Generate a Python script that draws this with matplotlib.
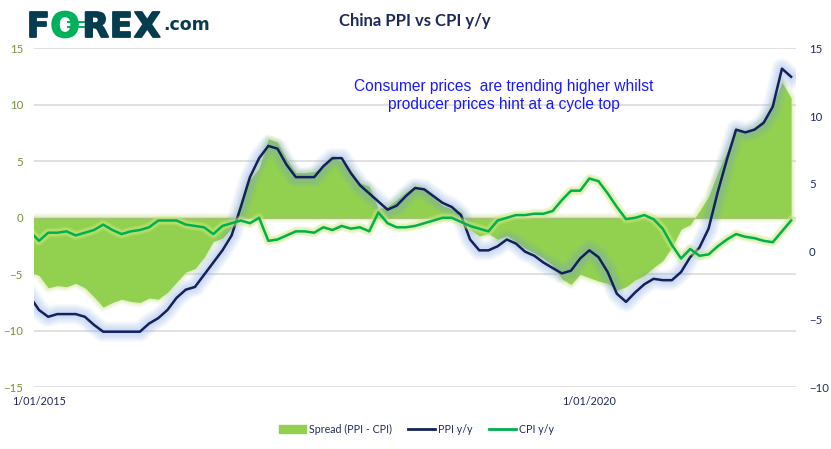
import matplotlib
matplotlib.use("Agg")
import matplotlib.pyplot as plt
import matplotlib.patheffects as pe
from matplotlib.patches import Patch
from matplotlib.lines import Line2D

plt.rcParams['font.family'] = ['Lato', 'DejaVu Sans']

# Monthly, Dec 2014 to Nov 2021 (Dec 2014 sits just outside the left edge and is clipped)
ppi = [-3.3,
       -4.3,-4.8,-4.6,-4.6,-4.6,-4.8,-5.4,-5.9,-5.9,-5.9,-5.9,-5.9,
       -5.3,-4.9,-4.3,-3.4,-2.8,-2.6,-1.7,-0.8,0.1,1.2,3.3,5.5,
       6.9,7.8,7.6,6.4,5.5,5.5,5.5,6.3,6.9,6.9,5.8,4.9,
       4.3,3.7,3.1,3.4,4.1,4.7,4.6,4.1,3.6,3.3,2.7,0.9,
       0.1,0.1,0.4,0.9,0.6,0.0,-0.3,-0.8,-1.2,-1.6,-1.4,-0.5,
       0.1,-0.4,-1.5,-3.1,-3.7,-3.0,-2.4,-2.0,-2.1,-2.1,-1.5,-0.4,
       0.3,1.7,4.4,6.8,9.0,8.8,9.0,9.5,10.7,13.5,12.9]
cpi = [1.5,
       0.8,1.4,1.4,1.5,1.2,1.4,1.6,2.0,1.6,1.3,1.5,1.6,
       1.8,2.3,2.3,2.3,2.0,1.9,1.8,1.3,1.9,2.1,2.3,2.1,
       2.5,0.8,0.9,1.2,1.5,1.5,1.4,1.8,1.6,1.9,1.7,1.8,
       1.5,2.9,2.1,1.8,1.8,1.9,2.1,2.3,2.5,2.5,2.2,1.9,
       1.7,1.5,2.3,2.5,2.7,2.7,2.8,2.8,3.0,3.8,4.5,4.5,
       5.4,5.2,4.3,3.3,2.4,2.5,2.7,2.4,1.7,0.5,-0.5,0.2,
       -0.3,-0.2,0.4,0.9,1.3,1.1,1.0,0.8,0.7,1.5,2.3]
spread = [-4.8,
          -5.1,-6.2,-6.0,-6.1,-5.8,-6.2,-7.0,-7.9,-7.5,-7.2,-7.4,-7.5,
          -7.1,-7.2,-6.6,-5.7,-4.8,-4.5,-3.5,-2.1,-1.8,-0.9,1.0,3.4,
          4.4,7.0,6.7,5.2,4.0,4.0,4.1,4.5,5.3,5.0,4.1,3.1,
          2.8,0.8,1.0,1.6,2.3,2.8,2.5,1.8,1.1,0.8,0.5,-1.0,
          -1.6,-1.4,-1.9,-1.6,-2.1,-2.7,-3.1,-3.6,-4.2,-5.4,-5.9,-5.0,
          -5.3,-5.6,-5.8,-6.4,-6.1,-5.5,-5.1,-4.4,-3.8,-2.6,-1.0,-0.6,
          0.6,1.9,4.0,5.9,7.7,7.7,8.0,8.7,10.0,12.0,10.6]
months = list(range(-1, len(ppi) - 1))
date_ticks = [0, 60]
date_labels = ['1/01/2015', '1/01/2020']
left_ticks = [-15, -10, -5, 0, 5, 10, 15]
right_ticks = [-10, -5, 0, 5, 10, 15]

NAVY = '#14205c'
GREEN = '#00b050'
AREA = '#92d050'
OLIVE = '#76923c'
TEXT = '#1f2a5c'
W, H = 831, 449

fig = plt.figure(figsize=(W/100, H/100), dpi=100, facecolor='white')
L, R, T, B = 34, 795.7, 48.3, 387.3
ax = fig.add_axes([L/W, 1-B/H, (R-L)/W, (B-T)/H])
ax2 = ax.twinx()
ax.set_xlim(-0.545, 82.5)
ax.set_ylim(-15, 15)
ax2.set_ylim(-10, 15)
ax.set_yticks(left_ticks)
ax2.set_yticks(right_ticks)
ax.set_xticks(date_ticks)
ax.set_xticklabels(date_labels, fontsize=7.8, color=TEXT)
ax.tick_params(axis='x', length=0, pad=6)
ax.tick_params(axis='y', length=0, pad=8, labelsize=8.2, labelcolor=OLIVE)
ax2.tick_params(axis='y', length=0, pad=9.5, labelsize=8.2, labelcolor=TEXT)
for s in ax.spines.values(): s.set_visible(False)
for s in ax2.spines.values(): s.set_visible(False)
ax.grid(axis='y', color='#d9d9d9', lw=1.1)
ax.set_axisbelow(True)

for lw, a in [(7, .10), (5.5, .12), (4, .16), (2.5, .2)]:
    ax.fill_between(months, spread, 0, facecolor='none', edgecolor='#c8e58a', lw=lw, alpha=a, zorder=1.5)
ax.fill_between(months, spread, 0, color=AREA, lw=0, zorder=2)
ax.plot(months, [0]*len(months), color='#a9c07a', lw=0.8, zorder=2.1)

def glow(colour, widths, alpha):
    return [pe.Stroke(linewidth=w, foreground=colour, alpha=alpha) for w in widths] + [pe.Normal()]

ax2.patch.set_visible(False)
ax2.plot(months, ppi, color=NAVY, lw=1.8, zorder=3, solid_joinstyle='round',
         path_effects=glow('#7fa6ea', [15, 14, 13, 12, 11, 10, 9, 8, 7, 6, 5, 4], .035))
ax2.plot(months, cpi, color=GREEN, lw=1.8, zorder=4, solid_joinstyle='round',
         path_effects=glow('#cdea7c', [7, 6, 5, 4], .2))

fig.text(415/W, 1-21/H, 'China PPI vs CPI y/y', ha='center', va='center', fontsize=12,
         fontweight='bold', color=TEXT)
fig.text(504/W, 1-95.5/H, 'Consumer prices  are trending higher whilst\nproducer prices hint at a cycle top',
         ha='center', va='center', fontsize=11.2, color='#1a1aff', family='Liberation Sans',
         linespacing=1.2)

# logo
LOGO = '#063c50'
LOGO_GREEN = '#00b15b'
for txt, x, col in [('F', 26.5, LOGO), ('O', 50.5, LOGO_GREEN), ('R', 82.5, LOGO), ('E', 109.5, LOGO), ('X', 134, LOGO)]:
    t = fig.text(x/W, 1-37/H, txt, ha='left', va='baseline', fontsize=24.7, fontweight='bold',
                 color=col, family='DejaVu Sans')
    t.set_path_effects([pe.withStroke(linewidth=1.3, foreground=col)])
for yy in (22, 27):
    fig.add_artist(Line2D([68/W, 84/W], [1-yy/H, 1-yy/H], color=LOGO_GREEN, lw=1.4))
fig.text(163/W, 1-30/H, '.com', ha='left', va='baseline', fontsize=12.5, fontweight='bold',
         color=LOGO, family='DejaVu Sans')

handles = [Patch(color=AREA, label='Spread (PPI - CPI)'),
           Line2D([], [], color=NAVY, lw=2, label='PPI y/y'),
           Line2D([], [], color=GREEN, lw=2, label='CPI y/y')]
fig.legend(handles=handles, loc='center', bbox_to_anchor=(416.5/W, 1-429/H), ncol=3, frameon=False,
           fontsize=7.7, labelcolor=TEXT, handlelength=2.5, handleheight=0.8, columnspacing=1.5, handletextpad=0.3)
fig.savefig('out.png', dpi=100)
